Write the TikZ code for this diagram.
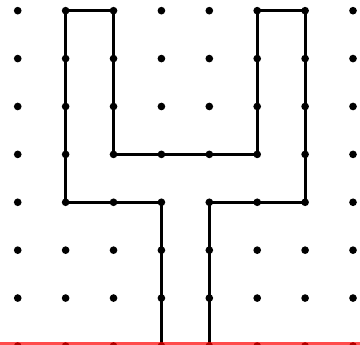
\documentclass[tikz,border=0pt]{standalone}
\usepackage{xcolor}
\usepackage{tikz}

\begin{document}
\begin{tikzpicture}[x=1cm, y=1cm,
    gridpt/.style={circle, fill=black, inner sep=0pt, minimum size=0.16cm},
    route/.style={line width=1.8pt, line join=miter},
    edge/.style={red, opacity=0.7, line width=5.2pt}]
  \useasboundingbox (-0.370,0.021) rectangle (7.146,7.223);
  % lattice points
  \foreach \x in {0,...,7}
    \foreach \y in {0,...,7}
      \coordinate (p\x\y) at (\x,\y);
  % the path
  \draw[route] (p30) -- (p33) -- (p13) -- (p17) -- (p27) -- (p24) -- (p54)
    -- (p57) -- (p67) -- (p63) -- (p43) -- (p40);
  \foreach \x in {0,...,7}
    \foreach \y in {0,...,7}
      \node[gridpt] (d\x\y) at (p\x\y) {};
  % boundary line
  \coordinate (bl) at (-0.370,0);
  \coordinate (br) at (7.146,0);
  \draw[edge] (bl) -- (br);
\end{tikzpicture}
\end{document}
